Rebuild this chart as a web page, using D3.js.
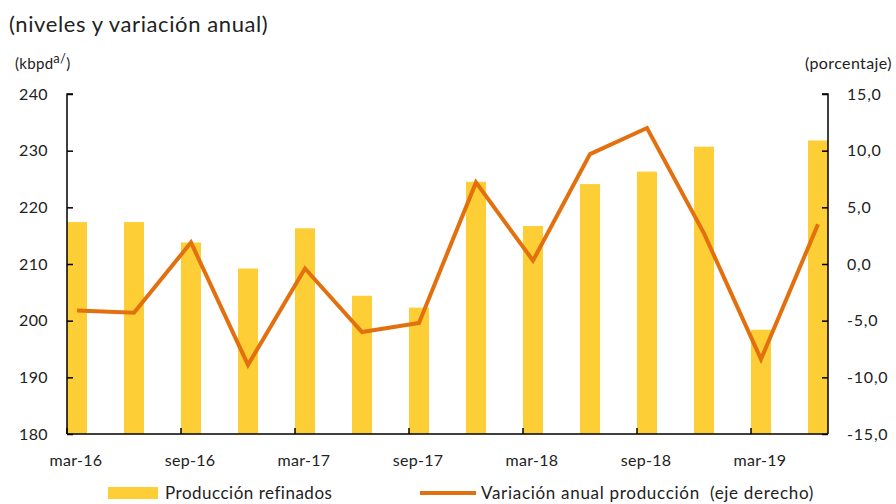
<!DOCTYPE html>
<html>
<head>
<meta charset="utf-8">
<script src="https://cdn.jsdelivr.net/npm/d3@7"></script>
<style>
    body { margin: 0; background: #fff; }
    svg { display: block; font-family: Lato, "Open Sans", sans-serif; }
</style>
</head>
<body>
<svg id="chart" width="896" height="504"></svg>
<script>
// quarterly periods
const periods = ["mar-16", "jun-16", "sep-16", "dic-16", "mar-17", "jun-17", "sep-17", "dic-17",
                 "mar-18", "jun-18", "sep-18", "dic-18", "mar-19", "jun-19"];
// refined production (kbpd), left axis
const produccion = [217.4, 217.4, 213.8, 209.2, 216.3, 204.4, 202.3, 224.5, 216.7, 224.1, 226.3, 230.7, 198.4, 231.8];
// annual change (%), right axis
const variacion = [-4.1, -4.3, 1.9, -8.9, -0.4, -6.0, -5.2, 7.2, 0.3, 9.7, 12.0, 2.7, -8.4, 3.5];

const leftTicks = [180, 190, 200, 210, 220, 230, 240];
const rightTicks = [-15, -10, -5, 0, 5, 10, 15];

// comma decimal, plain hyphen for negatives
const fmtComma = d => d.toFixed(1).replace(".", ",");

const svg = d3.select("#chart");
const plot = { left: 67, right: 828, top: 94, bottom: 434 };
const barW = 20;

const x = d3.scalePoint()
    .domain(periods)
    .range([plot.left + barW / 2, plot.right - barW / 2]);

const yL = d3.scaleLinear().domain([180, 240]).range([plot.bottom, plot.top]);
const yR = d3.scaleLinear().domain([-15, 15]).range([plot.bottom, plot.top]);

// bars
svg.append("g")
    .selectAll("rect")
    .data(produccion)
    .join("rect")
    .attr("x", (d, i) => x(periods[i]) - barW / 2)
    .attr("y", d => yL(d))
    .attr("width", barW)
    .attr("height", d => yL(180) - yL(d))
    .attr("fill", "#FDCE35");

// axes
const axisColor = "#000";
const leftAxis = svg.append("g").attr("transform", `translate(${plot.left},0)`)
    .call(d3.axisRight(yL).tickValues(leftTicks).tickSize(6).tickFormat(""));
leftAxis.select(".domain").attr("stroke", axisColor).attr("stroke-width", 1.5).attr("d", `M6,${plot.top}H0V${plot.bottom}`);
leftAxis.selectAll(".tick line").attr("stroke-width", 1.5);

const rightAxis = svg.append("g").attr("transform", `translate(${plot.right},0)`)
    .call(d3.axisLeft(yR).tickValues(rightTicks).tickSize(6).tickFormat(""));
rightAxis.select(".domain").attr("stroke", axisColor).attr("stroke-width", 1.5).attr("d", `M-6,${plot.top}H0V${plot.bottom}`);
rightAxis.selectAll(".tick line").attr("stroke-width", 1.5);

// left tick labels
svg.append("g").selectAll("text")
    .data(leftTicks)
    .join("text")
    .attr("x", 48)
    .attr("y", d => yL(d))
    .attr("dy", "0.35em")
    .attr("text-anchor", "end")
    .attr("font-size", 16)
    .attr("letter-spacing", 0.4)
    .attr("fill", "#222")
    .text(d => d);

// right tick labels
svg.append("g").selectAll("text")
    .data(rightTicks)
    .join("text")
    .attr("x", 847)
    .attr("y", d => yR(d))
    .attr("dy", "0.35em")
    .attr("font-size", 16)
    .attr("letter-spacing", 0.8)
    .attr("fill", "#222")
    .text(d => fmtComma(d));

// bottom axis
svg.append("line")
    .attr("x1", plot.left).attr("x2", plot.right)
    .attr("y1", plot.bottom).attr("y2", plot.bottom)
    .attr("stroke", axisColor).attr("stroke-width", 1.5);

const labelled = periods.filter((p, i) => i % 2 === 0);
svg.append("g").selectAll("line")
    .data(labelled)
    .join("line")
    .attr("x1", d => x(d) - barW / 2).attr("x2", d => x(d) - barW / 2)
    .attr("y1", plot.bottom).attr("y2", plot.bottom - 6)
    .attr("stroke", axisColor).attr("stroke-width", 1.5);

svg.append("g").selectAll("text")
    .data(labelled)
    .join("text")
    .attr("x", d => x(d) - 1)
    .attr("y", 466)
    .attr("text-anchor", "middle")
    .attr("font-size", 16)
    .attr("letter-spacing", 0.3)
    .attr("fill", "#222")
    .text(d => d);

// line
const line = d3.line()
    .x((d, i) => x(periods[i]))
    .y(d => yR(d));

svg.append("path")
    .datum(variacion)
    .attr("d", line)
    .attr("fill", "none")
    .attr("stroke", "#E2700F")
    .attr("stroke-width", 4)
    .attr("stroke-linejoin", "miter");

// titles
svg.append("text")
    .attr("x", 9).attr("y", 32)
    .attr("font-size", 22)
    .attr("letter-spacing", 0.6)
    .attr("fill", "#222")
    .text("(niveles y variación anual)");

const unitL = svg.append("text")
    .attr("x", 15).attr("y", 69)
    .attr("font-size", 15)
    .attr("letter-spacing", 0.3)
    .attr("fill", "#222");
unitL.append("tspan").text("(kbpd");
unitL.append("tspan").attr("font-size", 13).attr("dy", -6).text("a/");
unitL.append("tspan").attr("dy", 6).text(")");

svg.append("text")
    .attr("x", 892).attr("y", 69)
    .attr("text-anchor", "end")
    .attr("font-size", 16)
    .attr("letter-spacing", 0.4)
    .attr("fill", "#222")
    .text("(porcentaje)");

// legend
svg.append("rect")
    .attr("x", 108).attr("y", 487)
    .attr("width", 50).attr("height", 12)
    .attr("fill", "#FDCE35");
svg.append("text")
    .attr("x", 165).attr("y", 499)
    .attr("font-size", 17)
    .attr("letter-spacing", 0.5)
    .attr("fill", "#222")
    .text("Producción refinados");

svg.append("line")
    .attr("x1", 420).attr("x2", 476)
    .attr("y1", 493).attr("y2", 493)
    .attr("stroke", "#E2700F").attr("stroke-width", 4);
svg.append("text")
    .attr("x", 481).attr("y", 499)
    .attr("font-size", 17)
    .attr("letter-spacing", 0.7)
    .attr("fill", "#222")
    .text("Variación anual producción  (eje derecho)")
    .style("white-space", "pre");
</script>
</body>
</html>
